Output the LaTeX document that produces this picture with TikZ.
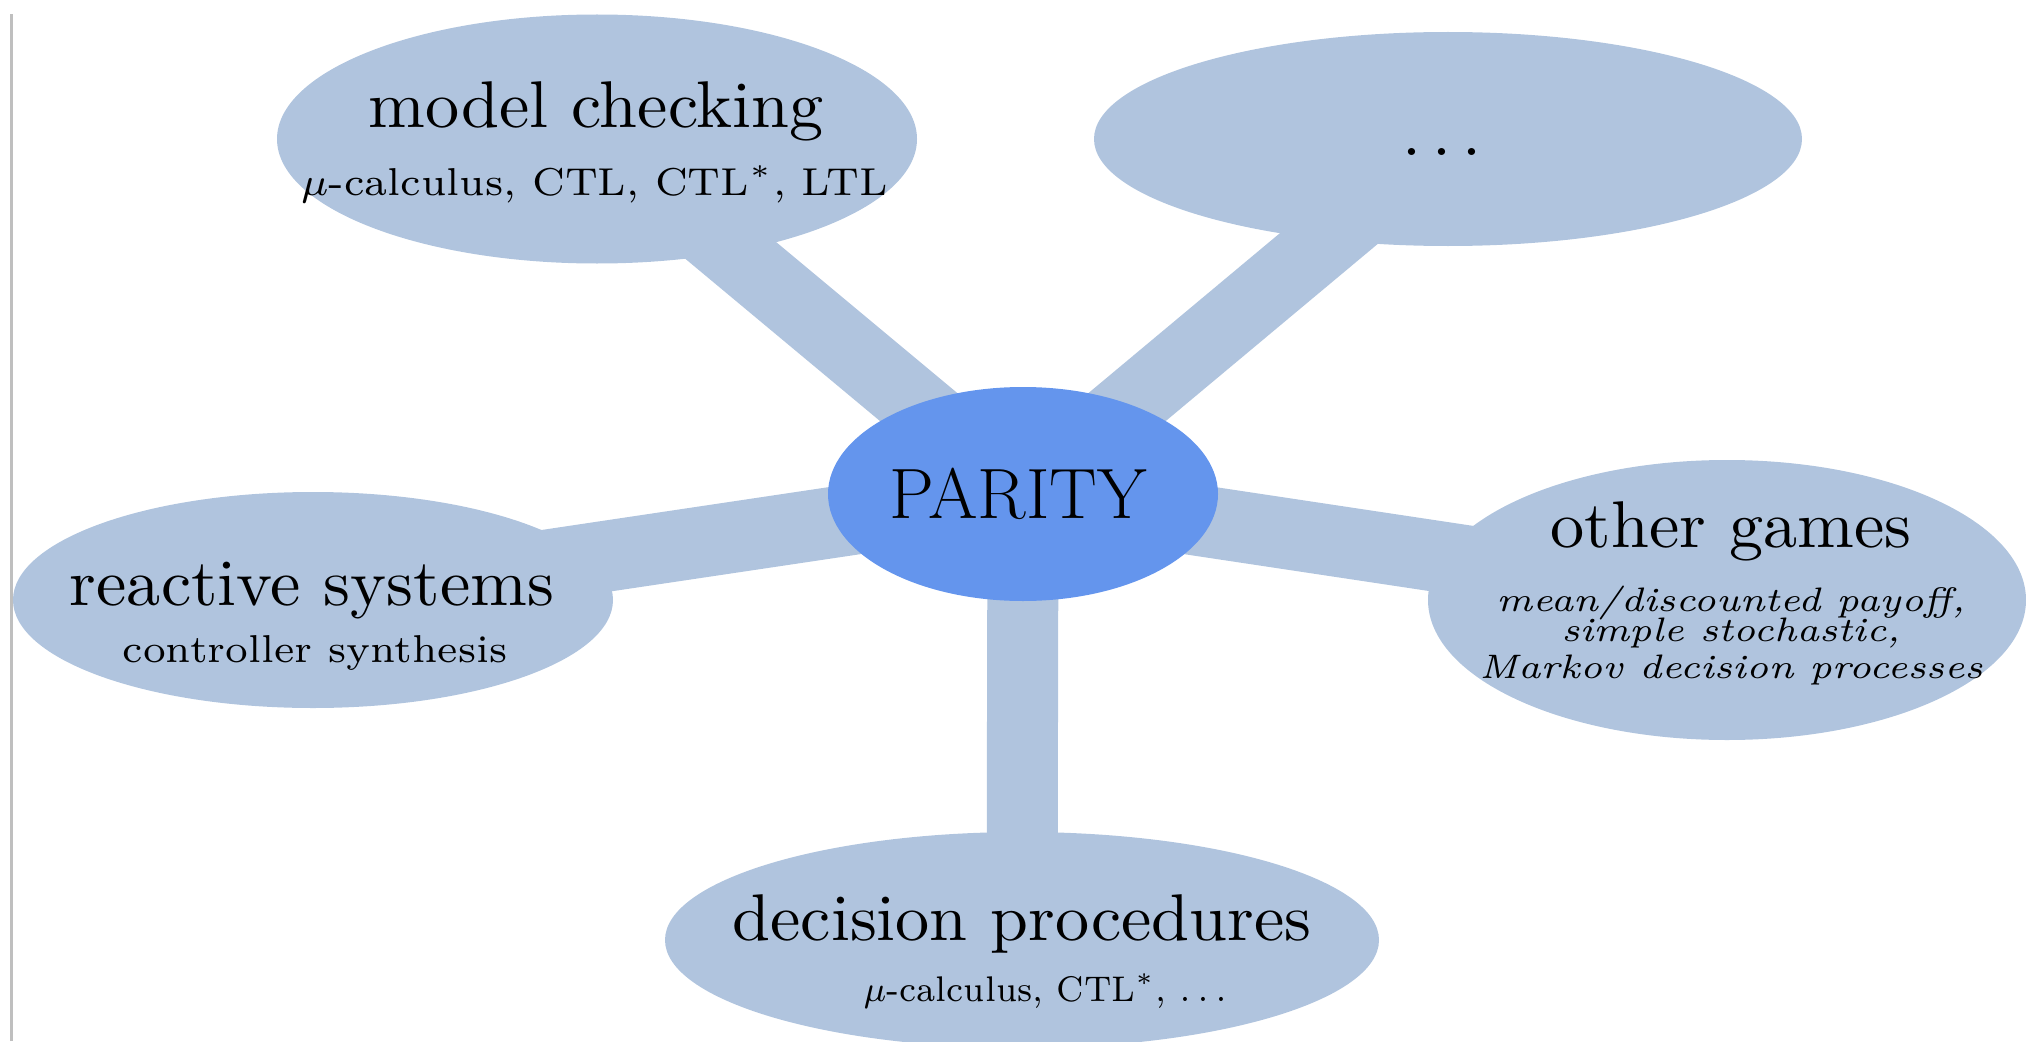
\documentclass[tikz,border=0pt]{standalone}
\usepackage{tikz}
\usetikzlibrary{shapes.geometric}
\usetikzlibrary{backgrounds}
\definecolor{spoke}{RGB}{176,196,222}
\definecolor{hub}{RGB}{100,149,237}
\tikzset{
    topic/.style={ellipse,fill=spoke,inner sep=0pt},
    spokeline/.style={draw=spoke,line width=0.71cm},
    bigtxt/.style={anchor=base,inner sep=0pt,xscale=1.94,yscale=1.88,
        font=\fontsize{10}{12}\selectfont},
    smalltxt/.style={anchor=base,inner sep=0pt,xscale=1.64,yscale=1.58,
        font=\fontsize{7}{8.4}\selectfont},
    gametxt/.style={smalltxt,align=center,xscale=1.525/1.64,yscale=1.38/1.58,
        font={\fontsize{7}{6.3}\selectfont\itshape\lineskiplimit-20pt\relax}}
}
\begin{document}
\begin{tikzpicture}
\useasboundingbox (0,0) rectangle (20.26,10.41);
\draw[black!25,line width=0.6pt] (0.115,0)--(0.115,10.27);

% les bulles
\node[topic,fill=hub,minimum width=3.9cm,minimum height=2.14cm] (hub) at (10.23,5.47) {};
\node[topic,minimum width=6.4cm,minimum height=2.49cm] (mc) at (5.97,9.02) {};
\node[topic,minimum width=7.08cm,minimum height=2.14cm] (etc) at (14.48,9.02) {};
\node[topic,minimum width=6.0cm,minimum height=2.16cm] (rs) at (3.13,4.41) {};
\node[topic,minimum width=5.98cm,minimum height=2.8cm] (og) at (17.27,4.41) {};
\node[topic,minimum width=7.14cm,minimum height=2.16cm] (dp) at (10.22,1.01) {};

% les branches
\begin{pgfonlayer}{background}
\foreach \b in {mc,etc,rs,og,dp}
    \draw[spokeline] (hub.center)--(\b.center);
\end{pgfonlayer}

% les textes
\node[anchor=base,inner sep=0pt,font=\fontsize{20.3}{24}\selectfont] (hubtxt) at (10.18,5.23) {PARITY};
\node[bigtxt] (mctxt) at (5.96,9.14) {model checking};
\node[smalltxt] (mcsub) at (5.945,8.46) {$\mu$-calculus, CTL, CTL$^*$, LTL};
\node[bigtxt] (etctxt) at (14.42,8.86) {$\ldots$};
\node[bigtxt] (rstxt) at (3.12,4.36) {reactive systems};
\node[smalltxt,xscale=1.63/1.64] (rssub) at (3.15,3.79) {controller synthesis};
\node[bigtxt] (ogtxt) at (17.31,4.94) {other games};
% base = derniere ligne
\node[gametxt] (ogsub) at (17.31,3.63) {mean/discounted payoff,\\simple stochastic,\\[1.2pt]Markov decision processes};
\node[bigtxt] (dptxt) at (10.22,1.01) {decision procedures};
\node[smalltxt,xscale=1.37/1.64,yscale=1.45/1.58] (dpsub) at (10.45,0.40) {$\mu$-calculus, CTL$^*$, $\ldots$};

\end{tikzpicture}
\end{document}
